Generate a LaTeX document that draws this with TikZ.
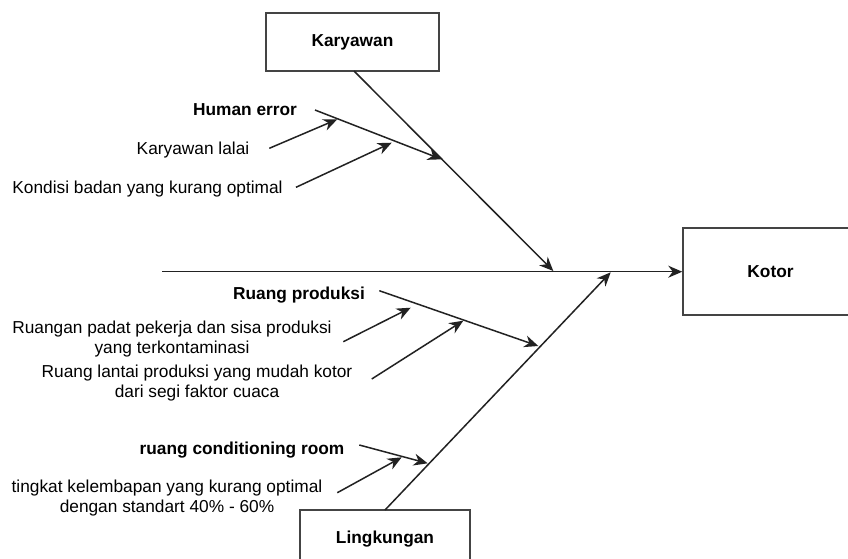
\documentclass[tikz,border=0pt]{standalone}
\usepackage{fontspec}
\setmainfont{Liberation Sans}
\usetikzlibrary{arrows.meta}

\definecolor{ink}{HTML}{222222}
\definecolor{frame}{HTML}{444444}

\tikzset{
  bone/.style={draw=ink, line width=1.5pt},
  cause/.style={bone, -{Stealth[length=14pt,width=12pt,inset=4.5pt]}},
  box/.style={draw=frame, line width=1.5pt, fill=white, inner sep=0pt,
    font=\bfseries\fontsize{17.3pt}{20pt}\selectfont},
  lbl/.style={inner sep=0pt, anchor=base, align=center, text=black,
    font=\fontsize{17.3pt}{20pt}\selectfont},
  hdr/.style={lbl, font=\bfseries\fontsize{17.3pt}{20pt}\selectfont},
}

\begin{document}
\begin{tikzpicture}[x=1pt, y=-1pt]
  \clip (0,0) rectangle (848,558);
  \fill[white] (0,0) rectangle (848,558);

  % effect box and category boxes
  \node[box, minimum width=175pt, minimum height=87pt] (kotor) at (770.5,271.5) {Kotor};
  \node[box, minimum width=173pt, minimum height=58pt] (kary) at (352.5,42) {Karyawan};
  \node[box, minimum width=170pt, minimum height=58pt] (ling) at (385,539) {Lingkungan};

  % spine
  \coordinate (spineL) at (162,271.7);
  \draw[cause] (spineL) -- (kotor.west |- spineL);

  % main bones
  \coordinate (karyT) at (354,71);
  \coordinate (karyJ) at (553.3,271);
  \coordinate (lingT) at (385,510);
  \coordinate (lingJ) at (610.7,272.3);
  \draw[cause] (karyT) -- (karyJ);
  \draw[cause] (lingT) -- (lingJ);

  % Karyawan: Human error
  \node[hdr] (he) at (245,115) {Human error};
  \coordinate (heA) at (315,110);
  \coordinate (heB) at (441.7,159.3);
  \draw[cause] (heA) -- (heB);

  \node[lbl] (kl) at (193,154) {Karyawan lalai};
  \coordinate (klA) at (269.3,148.3);
  \coordinate (klB) at (337.3,119.3);
  \draw[cause] (klA) -- (klB);

  \node[lbl] (kb) at (147.5,193) {Kondisi badan yang kurang optimal};
  \coordinate (kbA) at (296,187.3);
  \coordinate (kbB) at (391.7,142.7);
  \draw[cause] (kbA) -- (kbB);

  % Lingkungan: Ruang produksi
  \node[hdr] (rp) at (299,299) {Ruang produksi};
  \coordinate (rpA) at (379.3,290.7);
  \coordinate (rpB) at (538.3,346);
  \draw[cause] (rpA) -- (rpB);

  % two-line labels are placed by the baseline of their last line
  \node[lbl] (r1) at (172,353) {Ruangan padat pekerja dan sisa produksi\\yang terkontaminasi};
  \coordinate (r1A) at (343.3,341.7);
  \coordinate (r1B) at (410.7,307.7);
  \draw[cause] (r1A) -- (r1B);

  \node[lbl] (r2) at (197,397) {Ruang lantai produksi yang mudah kotor\\dari segi faktor cuaca};
  \coordinate (r2A) at (371.7,379);
  \coordinate (r2B) at (463.3,320.7);
  \draw[cause] (r2A) -- (r2B);

  % Lingkungan: ruang conditioning room
  \node[hdr] (rc) at (242,454) {ruang conditioning room};
  \coordinate (rcA) at (359.3,445);
  \coordinate (rcB) at (427.7,463.3);
  \draw[cause] (rcA) -- (rcB);

  \node[lbl] (t1) at (167,512) {tingkat kelembapan yang kurang optimal\\dengan standart 40\% - 60\%};
  \coordinate (t1A) at (337.3,492.7);
  \coordinate (t1B) at (401.7,457.3);
  \draw[cause] (t1A) -- (t1B);
\end{tikzpicture}
\end{document}
